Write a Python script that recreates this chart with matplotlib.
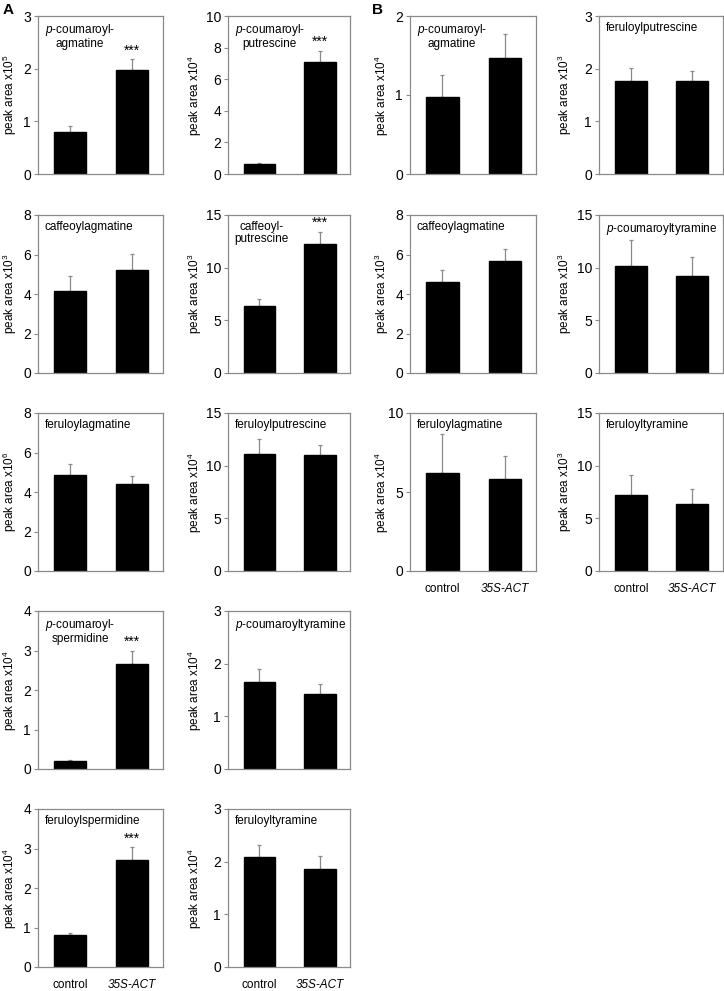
import numpy as np
import matplotlib
matplotlib.use("Agg")
import matplotlib.pyplot as plt

plt.rcParams['font.family'] = ['Liberation Sans', 'DejaVu Sans']
plt.rcParams['mathtext.fontset'] = 'custom'
plt.rcParams['mathtext.rm'] = 'Liberation Sans'
plt.rcParams['mathtext.it'] = 'Liberation Sans:italic'

P = r'$\mathit{p}$'

# panel data: name, exponent, ymax, ytick step, means (control, 35S-ACT), upper error ends, significance
names_A = [P + '-coumaroyl-\nagmatine', P + '-coumaroyl-\nputrescine',
           'caffeoylagmatine', 'caffeoyl-\nputrescine',
           'feruloylagmatine', 'feruloylputrescine',
           P + '-coumaroyl-\nspermidine', P + '-coumaroyltyramine',
           'feruloylspermidine', 'feruloyltyramine']
exp_A = [5, 4, 3, 3, 6, 4, 4, 4, 4, 4]
ymax_A = [3, 10, 8, 15, 8, 15, 4, 3, 4, 3]
step_A = [1, 2, 2, 5, 2, 5, 1, 1, 1, 1]
mean_A = [[0.80, 1.97], [0.62, 7.10], [4.15, 5.20], [6.40, 12.2], [4.85, 4.40],
          [11.1, 11.0], [0.20, 2.65], [1.65, 1.42], [0.80, 2.70], [2.08, 1.86]]
err_A = [[0.91, 2.18], [0.70, 7.80], [4.90, 6.05], [7.00, 13.4], [5.40, 4.80],
         [12.5, 12.0], [0.22, 3.00], [1.90, 1.62], [0.87, 3.03], [2.32, 2.10]]
sig_A = [True, True, False, True, False, False, True, False, True, False]

names_B = [P + '-coumaroyl-\nagmatine', 'feruloylputrescine',
           'caffeoylagmatine', P + '-coumaroyltyramine',
           'feruloylagmatine', 'feruloyltyramine']
exp_B = [4, 3, 3, 3, 4, 3]
ymax_B = [2, 3, 8, 15, 10, 15]
step_B = [1, 1, 2, 5, 5, 5]
mean_B = [[0.98, 1.47], [1.77, 1.76], [4.60, 5.65], [10.2, 9.2], [6.2, 5.8], [7.2, 6.4]]
err_B = [[1.25, 1.77], [2.02, 1.96], [5.22, 6.30], [12.6, 11.05], [8.7, 7.3], [9.1, 7.8]]
sig_B = [False] * 6

groups = ['control', '35S-ACT']

W, H = 724, 991
fig = plt.figure(figsize=(W / 100, H / 100), dpi=100)

rows_top = [16, 215, 413, 611, 809]
rows_h = 158
# left px, width px, y-label offset px (right edge of rotated label)
cols_A = [(38, 125, -19), (228, 122, -24)]
cols_B = [(410, 126, -19), (599, 124, -25)]

GRAY = '#8a8a8a'


def panel(x0, w, lab_off, ytop, name, ex, ymax, step, means, errs, sig, xlabels):
    ax = fig.add_axes([x0 / W, 1 - (ytop + rows_h) / H, w / W, rows_h / H])
    xs = np.arange(len(groups))
    ax.bar(xs, means, width=0.52, color='black', edgecolor='black', zorder=2)
    for x, m, e in zip(xs, means, errs):
        ax.errorbar(x, m, yerr=[[0], [e - m]], fmt='none', ecolor=GRAY,
                    elinewidth=0.9, capsize=1.2, capthick=0.9, zorder=1)
    if sig:
        ax.text(xs[1], errs[1] + ymax * 0.01, '***', ha='center', va='bottom', fontsize=10)
    ax.set_xlim(-0.52, 1.5)
    ax.set_ylim(0, ymax)
    ax.set_yticks(np.arange(0, ymax + step / 2, step))
    ax.tick_params(axis='y', labelsize=10, length=3, width=0.8, color=GRAY, pad=2)
    for s in ax.spines.values():
        s.set_color(GRAY)
        s.set_linewidth(0.9)
    ax.set_ylabel('peak area x10$^{%d}$' % ex, fontsize=8.5)
    ax.yaxis.set_label_coords(lab_off / w, 0.5)
    ax.set_xticks(xs)
    if xlabels:
        ax.set_xticklabels(groups, fontsize=8.5)
        ax.get_xticklabels()[1].set_style('italic')
        ax.tick_params(axis='x', length=0, pad=9)
    else:
        ax.set_xticklabels([])
        ax.tick_params(axis='x', length=0)
    # compound name inside the panel
    ax.text(0.055, 0.965, name, transform=ax.transAxes, ha='left', va='top',
            fontsize=8.5, multialignment='center', linespacing=1.1)
    return ax


for i in range(len(names_A)):
    r, c = divmod(i, 2)
    x0, w, off = cols_A[c]
    panel(x0, w, off, rows_top[r], names_A[i], exp_A[i], ymax_A[i], step_A[i],
          mean_A[i], err_A[i], sig_A[i], r == 4)

for i in range(len(names_B)):
    r, c = divmod(i, 2)
    x0, w, off = cols_B[c]
    panel(x0, w, off, rows_top[r], names_B[i], exp_B[i], ymax_B[i], step_B[i],
          mean_B[i], err_B[i], sig_B[i], r == 2)

fig.text(3 / W, 1 - 3 / H, 'A', fontsize=11, fontweight='bold', ha='left', va='top')
fig.text(372 / W, 1 - 3 / H, 'B', fontsize=11, fontweight='bold', ha='left', va='top')

fig.savefig('out.png', dpi=100)
